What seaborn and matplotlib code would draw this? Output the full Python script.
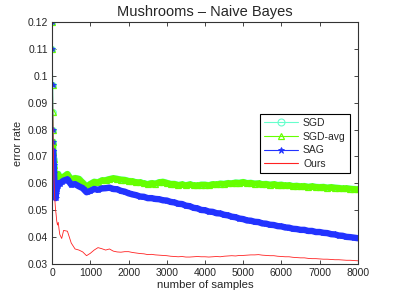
import numpy as np
import pandas as pd
import matplotlib
matplotlib.use("Agg")
import matplotlib.pyplot as plt
import seaborn as sns
from matplotlib.ticker import FormatStrFormatter

# data (error rate vs number of samples)
early_x = [1, 5, 10, 15, 20, 25, 30, 40, 50, 60, 70, 80, 90, 100,
           120, 140, 160, 180, 200, 250, 300]
samples = early_x + list(range(400, 8001, 100))

sgd_avg = [0.12, 0.11, 0.0965, 0.0865, 0.08, 0.0755, 0.072, 0.069, 0.067, 0.064,
           0.0625, 0.061, 0.062, 0.063, 0.0615, 0.062, 0.0635, 0.062, 0.0625, 0.0615, 0.0625,
           0.0635, 0.0615, 0.062, 0.0617, 0.0603, 0.0588, 0.0598, 0.0606, 0.0604, 0.0611,
           0.0612, 0.0616, 0.0619, 0.0617, 0.0614, 0.0613, 0.0609, 0.0608, 0.0604, 0.0604,
           0.0600, 0.0597, 0.0601, 0.0599, 0.0604, 0.0606, 0.0602, 0.0598, 0.0598, 0.0594,
           0.0596, 0.0593, 0.0596, 0.0593, 0.0592, 0.0595, 0.0595, 0.0593, 0.0597, 0.0596,
           0.0599, 0.0598, 0.0601, 0.0600, 0.0603, 0.0602, 0.0605, 0.0601, 0.0602, 0.0599,
           0.0600, 0.0597, 0.0598, 0.0595, 0.0597, 0.0594, 0.0595, 0.0592, 0.0593, 0.0590,
           0.0591, 0.0589, 0.0590, 0.0587, 0.0589, 0.0587, 0.0586, 0.0587, 0.0584, 0.0586,
           0.0584, 0.0583, 0.0581, 0.0582, 0.0580, 0.0579, 0.0578]
sgd = sgd_avg

sag = [0.12, 0.11, 0.0965, 0.08, 0.0755, 0.072, 0.070, 0.067, 0.064, 0.060,
       0.057, 0.055, 0.0545, 0.056, 0.058, 0.059, 0.0595, 0.060, 0.0598, 0.0605, 0.061,
       0.0615, 0.0595, 0.0597, 0.0589, 0.0582, 0.0567, 0.0572, 0.0579, 0.0576, 0.0581,
       0.0582, 0.0584, 0.0579, 0.0578, 0.0572, 0.0569, 0.0563, 0.0559, 0.0556, 0.0551,
       0.0550, 0.0545, 0.0545, 0.0542, 0.0541, 0.0537, 0.0536, 0.0531, 0.0529, 0.0524,
       0.0523, 0.0517, 0.0515, 0.0509, 0.0507, 0.0501, 0.0500, 0.0495, 0.0494, 0.0489,
       0.0488, 0.0483, 0.0481, 0.0476, 0.0474, 0.0469, 0.0467, 0.0462, 0.0461, 0.0457,
       0.0456, 0.0451, 0.0450, 0.0446, 0.0445, 0.0441, 0.0440, 0.0436, 0.0435, 0.0431,
       0.0430, 0.0427, 0.0427, 0.0423, 0.0423, 0.0419, 0.0419, 0.0416, 0.0415, 0.0411,
       0.0410, 0.0406, 0.0405, 0.0401, 0.0400, 0.0398, 0.0396]

ours = [0.12, 0.105, 0.095, 0.088, 0.082, 0.076, 0.072, 0.066, 0.061, 0.057,
        0.054, 0.052, 0.050, 0.049, 0.046, 0.0445, 0.0455, 0.043, 0.041, 0.0395, 0.0425,
        0.0422, 0.0378, 0.0356, 0.0352, 0.0345, 0.0331, 0.0340, 0.0352, 0.0361, 0.0357,
        0.0352, 0.0356, 0.0348, 0.0345, 0.0344, 0.0346, 0.0346, 0.0343, 0.0341, 0.0339,
        0.0338, 0.0335, 0.0336, 0.0334, 0.0333, 0.0332, 0.0331, 0.0329, 0.0328, 0.0327,
        0.0328, 0.0326, 0.0326, 0.0327, 0.0328, 0.0327, 0.0327, 0.0326, 0.0327, 0.0328,
        0.0327, 0.0329, 0.0330, 0.0331, 0.0330, 0.0332, 0.0332, 0.0333, 0.0334, 0.0334,
        0.0335, 0.0333, 0.0332, 0.0331, 0.0331, 0.0329, 0.0328, 0.0327, 0.0327, 0.0325,
        0.0324, 0.0323, 0.0323, 0.0321, 0.0320, 0.0320, 0.0319, 0.0318, 0.0318, 0.0317,
        0.0316, 0.0316, 0.0315, 0.0314, 0.0314, 0.0313, 0.0312]

df = pd.DataFrame({"samples": samples, "SGD": sgd, "SGD-avg": sgd_avg,
                   "SAG": sag, "Ours": ours})
head = df.iloc[:6]   # first few samples: sparse markers on a thin line
tail = df.iloc[5:]   # the rest: markers on every sample -> thick band

sns.set_style("ticks")
plt.rcParams['font.family'] = ['Liberation Sans', 'DejaVu Sans']

fig = plt.figure(figsize=(3.95, 2.97), dpi=100)
ax = fig.add_axes([0.132, 0.111, 0.774, 0.815])

styles = [("SGD", "#66ffcc", "o", 4.6, 0.8),
          ("SGD-avg", "#66ff00", "^", 4.2, 0.9),
          ("SAG", "#2233ff", "*", 4.6, 0.6)]
for name, col, mk, band, mew in styles:
    filled = col if mk == "*" else "none"
    sns.lineplot(data=tail, x="samples", y=name, ax=ax, color=col, lw=band,
                 marker=mk, ms=4, mfc=filled, mec=col, mew=mew, label=name,
                 estimator=None, sort=False)
    sns.lineplot(data=head, x="samples", y=name, ax=ax, color=col, lw=0.8,
                 marker=mk, ms=4, mfc=filled, mec=col, mew=mew,
                 estimator=None, sort=False, legend=False)
sns.lineplot(data=df, x="samples", y="Ours", ax=ax, color="#ff2222", lw=0.6,
             label="Ours", estimator=None, sort=False)

ax.set_xlim(0, 8000)
ax.set_ylim(0.03, 0.12)
ax.set_xticks(range(0, 8001, 1000))
ax.set_yticks(np.arange(0.03, 0.1201, 0.01))
ax.yaxis.set_major_formatter(FormatStrFormatter('%g'))
ax.tick_params(direction="in", top=True, right=True, labelsize=7.5,
               length=3, width=0.6, pad=3)
for s in ax.spines.values():
    s.set_visible(True)
    s.set_linewidth(0.8)
    s.set_color("#333333")

ax.set_xlabel("number of samples", fontsize=8.2, labelpad=1)
ax.set_ylabel("error rate", fontsize=7.8, labelpad=3)
ax.set_title("Mushrooms \u2013 Naive Bayes", fontsize=10.5, pad=4)

leg = ax.legend(loc="upper right", bbox_to_anchor=(0.974, 0.62), fontsize=7.5,
                fancybox=False, framealpha=1, edgecolor="black",
                handlelength=3.2, borderpad=0.4, labelspacing=0.35,
                handletextpad=0.5, borderaxespad=0)
leg.get_frame().set_linewidth(0.8)
for h in leg.legend_handles:
    h.set_linewidth(0.8)
    h.set_markersize(5)

fig.savefig("out.png", dpi=100)
